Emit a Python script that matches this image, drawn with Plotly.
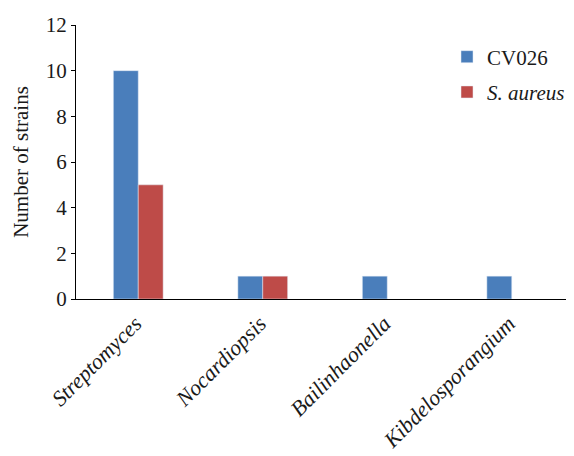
import plotly.graph_objects as go

categories = ["<i>Streptomyces</i>", "<i>Nocardiopsis</i>", "<i>Bailinhaonella</i>", "<i>Kibdelosporangium</i>"]
cv026 = [10, 1, 1, 1]
saureus = [5, 1, None, None]

font = "Liberation Serif, Times New Roman, serif"
fig = go.Figure()
fig.add_trace(go.Bar(x=categories, y=cv026, name="CV026", marker_color="#4a7ebb",
                     legendgroup="a"))
fig.add_trace(go.Bar(x=categories, y=saureus, name="<i>S. aureus</i>", marker_color="#be4b48",
                     legendgroup="b"))
fig.update_layout(
    width=566, height=448,
    margin=dict(l=68, r=0, t=17, b=157, autoexpand=False),
    paper_bgcolor="white", plot_bgcolor="white",
    barmode="group", bargap=0.6, bargroupgap=0,
    font=dict(family=font, size=21, color="#1a1a1a"),
    legend=dict(x=0.745, y=0.958, xanchor="left", yanchor="top", traceorder="grouped",
                tracegroupgap=5, font=dict(size=21), itemwidth=30,
                bgcolor="rgba(0,0,0,0)"),
    showlegend=True,
)
fig.update_yaxes(range=[0, 12], dtick=2, showline=True, linecolor="black", linewidth=1,
                 ticks="outside", ticklen=4, tickcolor="black", showgrid=False, zeroline=False,
                 tickfont=dict(size=21), automargin=False,
                 title=dict(text="Number of strains", font=dict(size=21), standoff=11))
fig.update_xaxes(showline=True, linecolor="black", linewidth=1, ticks="", tickangle=-45,
                 showgrid=False, tickfont=dict(size=22), automargin=False,
                 ticklabelshift=-3, ticklabelstandoff=2)
fig.write_html("out.html")
